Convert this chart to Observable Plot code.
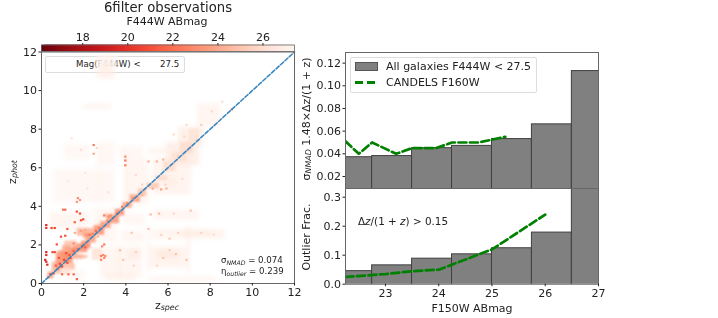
<!DOCTYPE html>
<html><head><meta charset="utf-8">
<script src="https://cdn.jsdelivr.net/npm/d3@7"></script>
<script src="https://cdn.jsdelivr.net/npm/@observablehq/plot@0.6"></script>
<style>
html,body{margin:0;padding:0;background:#fff}
#c{position:relative;width:718px;height:318px;overflow:hidden;font-family:"DejaVu Sans",sans-serif;color:#222;filter:blur(0.3px)}
#c svg{position:absolute;left:0;top:0;background:transparent}
.t{position:absolute;white-space:nowrap;font-size:11px;line-height:1}
.t sub{font-size:.72em;font-style:italic;vertical-align:-.25em;line-height:0}
.rot{transform:translate(-50%,-50%) rotate(-90deg)}
.ctr{transform:translate(-50%,-50%)}
#lg{position:absolute;left:45px;top:56px;width:138px;height:15px;border:1px solid #ddd;border-radius:2px;background:#fff}
#lg2{position:absolute;left:350px;top:57px;width:185px;height:34px;border:1px solid #ddd;border-radius:2px;background:rgba(255,255,255,.9)}
</style></head><body><div id="c"></div>
<script>
// Pale background areas: [zspec1, zspec2, zphot1, zphot2, mag]
const washCells = [
 [0.6,3.5,4.2,5.9,27.2],[0.4,2.3,2.8,3.7,27.1],[2.5,3.6,2.1,3.9,27.2],[2.8,4.8,0.3,1.9,27.1],
 [3.8,4.9,2.1,2.7,27.1],[5.3,8.7,2.3,2.8,26.8],[6.7,8.1,2.45,2.7,26.6],[5.2,6.9,0.8,1.9,26.8],
 [5.3,7.5,3.3,3.8,27],[5.3,7.1,4.6,6.5,26.9],[4.0,5.1,4.1,6.5,27.1],[2.7,3.5,6.1,7.3,27.2],
 [1.1,2.3,6.4,7.2,27.3],[3.7,4.8,6.5,7.1,27.2],[5.1,5.9,6.7,7.0,26.9],[5.9,7.5,6.1,7.3,26.4],
 [6.5,7.7,7.1,8.1,26.5],[7.4,8.5,8.1,9.3,27],[2.6,3.5,10.6,11.5,26.9],[2.9,3.3,10.7,11.7,26.8],
 [2.0,3.3,9.05,9.25,26.6],[1.2,2.1,0.2,0.7,27.2],[3.0,4.5,0.15,0.5,26.8],[5.1,8.3,0.1,0.35,27],
 [4.1,4.7,1.2,1.8,26.7],[5.5,6.5,1.3,1.7,26.4],[3.9,4.9,3.0,3.6,27.2],[6.0,6.4,5.0,5.5,26.6],
 [2.65,2.95,3.0,3.2,26.6],[3.97,4.08,4.0,6.8,26.6],[2.68,2.75,4.2,7.2,26.8],[5.05,5.15,0.6,3.0,26.4],
 [6.92,7.03,0.6,3.0,26.3],[3.66,3.74,0.2,2.0,26.3]
];
// Denser cells around the one-to-one ridge
const ridgeCells = [
 [0.3,0.6,0.25,0.6,24],[0.5,0.9,0.5,1.1,24.5],[0.7,1.1,0.7,1.6,23.4],[0.8,1.3,1.0,1.7,23.6],
 [1.0,1.5,1.05,1.6,23.1],[1.2,1.7,1.3,1.85,23],[1.5,2.2,1.6,2.05,23.2],[1.9,2.35,1.8,2.2,23.1],
 [2.1,2.6,2.1,2.5,23.8],[1.7,2.5,2.45,2.85,24.4],[2.0,2.5,2.35,2.6,23.6],[2.5,3.0,2.5,3.0,23.3],
 [2.8,3.3,2.85,3.2,23.6],[3.1,3.7,3.1,3.55,23.5],[3.5,3.95,3.5,3.85,23.2],[3.85,4.3,3.9,4.2,23.7],
 [4.2,4.7,4.2,4.6,24],[4.6,5.0,4.5,4.9,25],[5.0,5.6,4.9,5.2,25.2],[5.4,6.0,5.3,5.6,26],
 [5.8,6.4,5.8,6.3,26.1],[6.2,6.9,6.3,6.8,26.2],[6.6,7.2,6.7,7.3,26],[7.0,7.5,7.3,8.0,26.3],
 [1.4,2.0,1.25,1.5,24.6],[1.7,2.2,1.3,1.45,24.4],[1.0,1.6,0.7,1.05,24.8],[0.9,1.4,0.45,0.8,26.2],
 [1.1,1.7,1.9,2.2,24.9],[1.0,1.4,1.6,1.95,23.9],[2.4,2.9,1.2,1.8,26.3],[2.95,3.4,3.45,3.6,24.8]
];
// Single hot cells: [zspec, zphot, mag]
const spotCells = [
 [0.25,3.0,19.5],[0.25,2.85,20.2],[0.5,2.85,20.8],[0.65,2.85,20.5],[0.25,1.6,19.5],[0.25,1.45,20],[0.2,1.2,19.5],
 [0.25,1.1,19.8],[0.3,0.95,19.5],[0.55,1.6,20.5],[0.65,1.6,20.8],[0.75,2.0,21],[0.95,2.4,21],[1.15,2.45,21],
 [1.25,2.8,21.4],[1.05,3.8,22],[1.15,3.8,21.8],[1.7,3.7,21],[1.85,3.6,21.2],[1.9,3.25,20.8],[2.0,3.3,21],[1.6,3.15,21.5],
 [1.75,4.4,23],[1.7,4.2,23.5],[1.85,4.3,23.5],[1.0,0.45,21.6],[1.3,0.45,22],[1.55,0.45,21.6],[1.7,0.2,21.6],
 [3.0,2.0,22.4],[2.9,1.9,22.8],[2.85,1.4,22.4],[3.0,1.3,22.8],[2.85,1.2,22.6],[3.05,1.4,23],[2.95,1.45,23],[3.0,3.5,22.6],
 [3.2,3.45,23],[4.0,6.1,22.4],[4.0,6.35,22.2],[4.0,6.55,23],[2.5,7.15,22.5],[2.5,6.7,24],[9.05,9.0,22.5],
 [0.9,1.0,20.8],[1.1,1.2,20.6],[1.0,0.85,21],[1.25,1.05,21],[1.35,1.45,21.1],[0.8,0.75,21.4],[0.85,1.3,21],
 [0.6,0.5,21],[0.45,0.45,21],[0.35,0.3,22],[1.55,1.65,21.4],[1.75,1.75,21.5],[1.95,1.9,21.4],[2.1,1.85,21.6],
 [1.4,1.3,21],[1.2,1.55,21],[2.3,2.5,22],[2.6,2.7,22],[2.75,2.85,22.2],[3.4,3.35,22.4],[3.6,3.6,22.2],
 [3.85,3.95,22.6],[4.1,4.15,23],[4.35,4.4,23.2],[5.3,4.9,24],[5.7,4.85,23.6],[5.95,4.9,24.4],[5.2,3.55,24.6],
 [5.6,3.6,24.6],[7.1,3.75,25],[6.1,2.3,25],[6.4,1.5,24.8],[5.8,1.3,25],[6.9,1.2,24.9],[5.1,6.3,24.4],
 [5.5,6.3,24.4],[5.8,6.4,24.5],[4.3,2.6,25],[3.75,1.7,24.7],[3.9,1.2,25],[4.5,1.6,25.4],[2.7,2.4,24.5],[1.55,2.05,23],
 [5.1,2.8,25],[7.4,7.4,25.4],[8.1,8.9,25.8],[7.6,8.2,25.4],[8.6,9.4,26],[1.45,7.5,26.4],[1.9,6.9,26],[2.65,7.0,25.8],
 [6.3,7.7,26],[6.9,8.2,26],[7.1,7.0,25.6],[6.5,6.6,25.6],[5.9,5.1,25.4],[6.8,7.6,25.8],[4.8,4.55,24.4],[4.55,4.3,24],
 [1.6,2.6,24],[1.9,2.7,23.6],[2.1,2.75,24],[2.2,2.5,23.2],[2.45,2.55,22.6],[3.15,3.2,22.8],[3.3,3.5,23],[0.7,0.9,21.6],
 [6.2,5.9,25.8],[6.7,5.4,26],[4.5,5.6,26],[4.8,5.1,25.6],[3.2,4.7,26.2],[2.2,4.9,26.4],[1.3,5.3,26.6],[2.1,5.7,26.6],
 [4.4,0.9,25.8],[5.5,0.9,25.8],[6.1,1.7,25.4],[7.6,2.6,25.6],[8.2,2.5,26],[6.5,2.6,25.4],[5.7,2.5,25.6],[6.3,3.6,25.8]
];
// Faint cells that lie over the legend text
const legendOverCells = [[2.62,3.1,11.2,11.85,27.35],[3.1,3.62,11.15,11.85,27.35]];
const magTicks = [18,20,22,24,26];
const magDomain = [16.17,27.4];
const zTicks = [0,2,4,6,8,10,12];

// Magnitude bins on the right
const binStart = [22,22.75,23.5,24.25,25,25.75,26.5];
const binEnd = [22.75,23.5,24.25,25,25.75,26.5,27.25];
const sigmaBars = [0.037,0.038,0.045,0.047,0.053,0.066,0.113];
const outlierBars = [0.045,0.065,0.088,0.103,0.124,0.178,0.40];
const candelsSigmaMag = [22.25,22.5,22.75,23.2,23.5,23.95,24.25,24.75,25.25];
const candelsSigma = [0.051,0.040,0.050,0.040,0.045,0.045,0.050,0.050,0.055];
const candelsOutMag = [22.25,23,23.5,24,25,26];
const candelsOut = [0.025,0.035,0.045,0.05,0.12,0.24];

const W=718,H=318;
const colorScale = {type:"linear",scheme:"Reds",reverse:true,domain:magDomain};
const tf = {fontFamily:"DejaVu Sans, sans-serif",fontSize:11};
const c = document.getElementById("c");
const spine = "#666";
const cellRow = a=>({x1:a[0],x2:a[1],y1:a[2],y2:a[3],m:a[4]});
const spotRow = a=>({x1:a[0]-0.055,x2:a[0]+0.055,y1:a[1]-0.055,y2:a[1]+0.055,m:a[2]});

function div(html,x,y,cls,size){const d=document.createElement("div");d.className="t "+cls;d.innerHTML=html;d.style.left=x+"px";d.style.top=y+"px";if(size)d.style.fontSize=size+"px";c.appendChild(d);return d;}

// blur used on the broad density patches, so they read as soft density
const blurred = px => (index,scales,values,dims,context,next)=>{const g=next(index,scales,values,dims,context);g.style.filter=`blur(${px}px)`;return g;};

// legend under the scatter panel
const lg=document.createElement("div");lg.id="lg";c.appendChild(lg);
div("Mag(F444W) &lt;",76,60,"",8.6);
div("27.5",160,60,"",8.6);

// main panel
c.appendChild(Plot.plot({
 width:W,height:H,style:{background:"transparent",...tf},
 marginLeft:41,marginRight:W-294,marginTop:51.5,marginBottom:H-283,
 x:{domain:[0,12]},y:{domain:[0,12]},color:colorScale,
 marks:[
  Plot.rect(washCells.map(cellRow),{x1:"x1",x2:"x2",y1:"y1",y2:"y2",fill:"m",fillOpacity:0.6,render:blurred(2.2)}),
  Plot.rect(ridgeCells.map(cellRow),{x1:"x1",x2:"x2",y1:"y1",y2:"y2",fill:"m",fillOpacity:0.9,render:blurred(1)}),
  Plot.rect(spotCells.map(spotRow),{x1:"x1",x2:"x2",y1:"y1",y2:"y2",fill:"m"}),
  Plot.rect(legendOverCells.map(cellRow),{x1:"x1",x2:"x2",y1:"y1",y2:"y2",fill:"m",fillOpacity:0.7,render:blurred(1)}),
  Plot.line([[0,0],[12,12]],{x:d=>d[0],y:d=>d[1],stroke:"#3b87c0",strokeWidth:1.6,strokeDasharray:"4,2"}),
  Plot.frame({stroke:spine,strokeWidth:1}),
  Plot.axisX({ticks:zTicks,tickFormat:d=>d,label:null,tickSize:2.5,tickPadding:2,...tf}),
  Plot.axisY({ticks:zTicks,tickFormat:d=>d,label:null,tickSize:2.5,tickPadding:2,...tf})
 ]
}));

// colour bar
c.appendChild(Plot.plot({
 width:W,height:52,style:{background:"transparent",...tf},
 marginLeft:41,marginRight:W-294,marginTop:44.5,marginBottom:1,
 x:{domain:magDomain},y:{domain:[0,1],axis:null},color:colorScale,
 marks:[
  Plot.rectY(d3.range(16.17,27.4,0.1),{x1:d=>d,x2:d=>d+0.3,y1:0,y2:1,fill:d=>d,clip:true}),
  Plot.axisX({anchor:"top",ticks:magTicks,tickFormat:d=>d,label:null,tickSize:2.5,tickPadding:2,...tf}),
  Plot.frame({stroke:spine,strokeWidth:0.8})
 ]
}));

function barPanel(top,bottom,domain,ticks,fmt,vals,lineX,lineY,showX){
 const rows=binStart.map((b,i)=>({a:b,b:binEnd[i],v:vals[i]}));
 const ln=lineX.map((x,i)=>({x,y:lineY[i]}));
 const ml=345,mr=W-598;
 return Plot.plot({
  width:W,height:H,style:{background:"transparent",...tf},
  marginLeft:ml,marginRight:mr,marginTop:top,marginBottom:H-bottom,
  x:{domain:[22.25,27],axis:null},y:{domain},
  marks:[
   Plot.rectY(rows,{x1:"a",x2:"b",y1:domain[0]-1,y2:"v",fill:"#808080",stroke:"#404040",strokeWidth:1,clip:true}),
   Plot.line(ln,{x:"x",y:"y",stroke:"#008000",strokeWidth:2.7,strokeDasharray:"8,3.5",clip:true}),
   Plot.frame({stroke:spine,strokeWidth:1}),
   Plot.axisY({ticks,tickFormat:fmt,label:null,tickSize:2.5,tickPadding:2,...tf}),
   showX?Plot.axisX({ticks:[23,24,25,26,27],tickFormat:d=>d,label:null,tickSize:2.5,tickPadding:2,...tf}):null
  ]
 });
}
c.appendChild(barPanel(52,188,[0.0094,0.1294],[0.02,0.04,0.06,0.08,0.10,0.12],d3.format(".2f"),sigmaBars,candelsSigmaMag,candelsSigma,false));
c.appendChild(barPanel(188,283.7,[0,0.33],[0,0.1,0.2,0.3],d3.format(".1f"),outlierBars,candelsOutMag,candelsOut,true));

// right legend
const lg2=document.createElement("div");lg2.id="lg2";c.appendChild(lg2);
const swatch=document.createElement("div");swatch.style.cssText="position:absolute;left:355px;top:62px;width:21px;height:7px;background:#808080;border:1px solid #555";c.appendChild(swatch);
const dash=document.createElement("div");dash.style.cssText="position:absolute;left:355px;top:81px;width:23px;height:2.6px;background:repeating-linear-gradient(90deg,#008000 0 8px,transparent 8px 11.5px)";c.appendChild(dash);
div("All galaxies F444W &lt; 27.5",386,60.5,"",11);
div("CANDELS F160W",386,76.5,"",11);

// titles and labels
div("6filter observations",168,7.5,"ctr",13.2);
div("F444W ABmag",167,21,"ctr",11);
div("z<sub>spec</sub>",167,305,"ctr",11);
div("z<sub>phot</sub>",12,172,"rot",11);
div("&sigma;<sub>NMAD</sub> 1.48&times;&Delta;z/(1 + z)",306,119,"rot",11);
div("Outlier Frac.",306,237,"rot",11);
div("F150W ABmag",472,308,"ctr",11);
div("&Delta;<i>z</i>/(1 + <i>z</i>) &gt; 0.15",358,216,"",10.4);
div("&sigma;<sub>NMAD</sub> = 0.074",221,256,"",8.6);
div("&eta;<sub>outlier</sub> = 0.239",221,267,"",8.6);
</script></body></html>
